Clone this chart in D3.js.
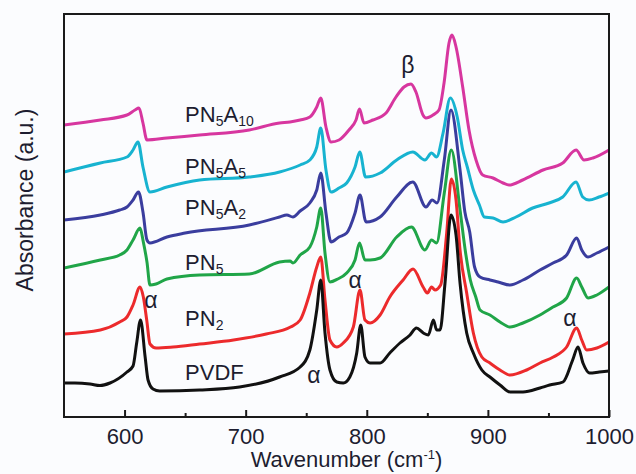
<!DOCTYPE html>
<html><head><meta charset="utf-8">
<script src="https://cdn.jsdelivr.net/npm/d3@7"></script>
<style>
html,body{margin:0;padding:0;background:#fbfcfe;}
svg{display:block;}
text{font-family:"Liberation Sans",Arial,Helvetica,sans-serif;fill:#1d1d30;}
</style></head><body>
<svg id="chart" width="636" height="474"></svg>
<script>
// ---- data (wavenumber cm^-1, absorbance a.u., spectra stacked with offsets) ----
const xTicks = [600, 700, 800, 900, 1000];
const xMinorTicks = [650, 750, 850, 950];
const seriesNames = ["PN5A10", "PN5A5", "PN5A2", "PN5", "PN2", "PVDF"];
const seriesColors = ["#d7369f", "#17b3d0", "#3a3d9e", "#20a548", "#ec2a2c", "#111111"];

const PN5A10 = [[550,2.92],[580,2.97],[602,3.02],[608.6,3.07],[611.9,3.09],[615.2,2.94],[618.5,2.77],[635,2.79],[662,2.82],[703,2.87],[728,2.94],[736.6,2.95],[745,2.97],[753,3.00],[758.7,3.10],[762,3.19],[766.3,2.90],[770.5,2.75],[777.1,2.77],[785.3,2.87],[791.1,2.97],[794,3.08],[797.7,2.94],[805.1,2.97],[815.9,3.04],[824.1,3.20],[830.7,3.30],[836.5,3.33],[840.6,3.25],[846.4,3.02],[848.9,2.99],[854.7,3.02],[859.6,3.07],[863.8,3.34],[867.9,3.74],[870.4,3.82],[873.7,3.70],[879.2,3.30],[884.4,2.87],[890.2,2.57],[895.7,2.42],[904.2,2.39],[912.5,2.34],[917.4,2.32],[928.7,2.37],[945.5,2.47],[961.8,2.54],[972.8,2.67],[979.4,2.57],[986.8,2.59],[1000,2.67]];
const PN5A5 = [[550,2.45],[580,2.54],[602,2.60],[607,2.67],[611.1,2.75],[615.2,2.50],[621,2.25],[635,2.30],[662,2.37],[703,2.40],[728,2.45],[745,2.52],[753,2.57],[758.7,2.70],[762,2.89],[766.3,2.47],[770.5,2.25],[777.1,2.29],[783.4,2.34],[790.3,2.50],[794.2,2.65],[799,2.40],[811,2.44],[824.7,2.57],[838,2.65],[848,2.57],[853.5,2.64],[857.6,2.60],[863,2.84],[869,3.19],[874.7,3.00],[879.2,2.67],[883,2.50],[888,2.27],[893,2.12],[897,2.00],[904.2,1.99],[912.5,1.95],[923.2,2.00],[937,2.09],[950.5,2.14],[961.8,2.20],[972.8,2.35],[978.3,2.20],[983.5,2.17],[991.7,2.20],[1000,2.24]];
const PN5A2 = [[550,1.97],[580,2.02],[596,2.07],[602,2.10],[607,2.17],[611.5,2.25],[615.2,2.05],[618.5,1.77],[621,1.74],[635,1.80],[650,1.84],[703,1.92],[728,2.00],[734,2.02],[739,2.00],[745,2.06],[753,2.14],[758.7,2.27],[762,2.44],[766.3,2.04],[770.5,1.75],[777,1.80],[783.4,1.84],[790.3,2.04],[794.4,2.22],[799.4,1.95],[811,2.00],[824.7,2.20],[838,2.35],[848.9,2.10],[854,2.17],[858,2.14],[864,2.57],[869.5,3.07],[877,2.47],[881,2.05],[885,1.85],[889,1.50],[893.5,1.40],[901.7,1.37],[908.4,1.35],[918.3,1.32],[929,1.37],[943,1.47],[953.8,1.54],[965,1.62],[973.3,1.79],[977.5,1.67],[982.7,1.60],[990,1.64],[1000,1.70]];
const PN5 = [[550,1.49],[580,1.57],[596,1.62],[602,1.67],[607,1.77],[612.8,1.89],[615.5,1.75],[618.5,1.55],[621,1.32],[626,1.33],[635,1.38],[662,1.42],[703,1.43],[728,1.55],[736.6,1.56],[739,1.54],[745,1.62],[753,1.70],[758.7,1.90],[762,2.09],[765.5,1.64],[769.6,1.35],[776,1.38],[783.4,1.44],[790.3,1.57],[794,1.74],[798.5,1.57],[802.7,1.57],[811,1.59],[824.7,1.80],[836.9,1.90],[848,1.67],[853.5,1.77],[857.6,1.74],[864,2.24],[869.8,2.67],[877,2.07],[881.5,1.65],[885.5,1.37],[890,1.20],[893.5,1.07],[901.7,1.02],[910,0.95],[918.3,0.90],[929,0.94],[943,1.02],[953.8,1.10],[965,1.19],[973.3,1.39],[977.5,1.30],[982.7,1.19],[990,1.22],[1000,1.30]];
const PN2 = [[550,0.83],[580,0.87],[596,0.95],[602,1.00],[607,1.12],[612.8,1.30],[615.5,1.20],[618.3,0.97],[621,0.73],[626,0.69],[640,0.70],[662,0.73],[690,0.77],[717,0.83],[737,0.90],[745,0.97],[753,1.24],[758.7,1.50],[762,1.60],[765.5,1.17],[769.6,0.77],[775.2,0.70],[780.6,0.74],[788.9,0.90],[794.4,1.27],[798.5,0.97],[802.7,0.94],[811,1.02],[819,1.20],[830,1.37],[838.2,1.48],[846.5,1.30],[850,1.24],[853.5,1.30],[856.3,1.27],[861,1.32],[866,1.84],[869.8,2.38],[873.7,2.17],[877,1.67],[882.5,1.24],[888,0.84],[895,0.60],[901.7,0.54],[910,0.47],[918.3,0.42],[932,0.47],[943,0.54],[954,0.60],[965,0.70],[973.3,0.89],[977.5,0.77],[981.6,0.67],[990,0.69],[1000,0.75]];
const PVDF = [[550,0.34],[559,0.34],[571.5,0.33],[579.7,0.315],[588,0.34],[602,0.45],[607,0.51],[610,0.74],[613.2,0.97],[617,0.60],[619.4,0.37],[623.5,0.28],[629,0.26],[662,0.27],[695,0.30],[728,0.40],[745,0.50],[753,0.67],[758.7,1.07],[762,1.37],[765.5,0.84],[769.6,0.47],[775.2,0.35],[780.6,0.34],[786,0.40],[791.7,0.64],[795,0.92],[798.5,0.60],[802.7,0.54],[811,0.54],[819,0.64],[827.4,0.74],[835.7,0.82],[841,0.89],[846.7,0.84],[850.8,0.82],[855,0.97],[857.7,0.87],[860.5,0.87],[864.6,1.34],[869.5,2.02],[873.7,1.82],[877,1.34],[882.5,0.84],[888,0.64],[895,0.47],[901.7,0.40],[910,0.32],[918.3,0.25],[929,0.25],[943,0.29],[951,0.32],[962,0.35],[970,0.57],[974.4,0.70],[978.5,0.54],[984,0.44],[992,0.45],[1000,0.46]];

const seriesData = [PN5A10, PN5A5, PN5A2, PN5, PN2, PVDF];

// series label text pieces: [text, isSubscript]
const seriesLabelParts = [
  [["PN",0],["5",1],["A",0],["10",1]],
  [["PN",0],["5",1],["A",0],["5",1]],
  [["PN",0],["5",1],["A",0],["2",1]],
  [["PN",0],["5",1]],
  [["PN",0],["2",1]],
  [["PVDF",0]]
];
// label anchor in data coordinates [wavenumber, absorbance]
const seriesLabelAnchor = [[650,2.95],[650,2.43],[650,2.02],[650,1.47],[650,0.91],[650,0.37]];

const bandLabels = ["α", "α", "α", "α", "β"];
const bandLabelAnchor = [[621.8,1.09],[756.4,0.34],[790.3,1.29],[967.8,0.91],[834,3.44]];

// ---- layout ----
const plot = {left: 64, right: 609, top: 14, bottom: 417};

const svg = d3.select("#chart");
const x = d3.scaleLinear().domain([550, 1000]).range([plot.left, plot.right]);
const y = d3.scaleLinear().domain([0, 4.03]).range([plot.bottom, plot.top]);

svg.append("defs").append("clipPath").attr("id", "clip")
  .append("rect").attr("x", plot.left).attr("y", plot.top)
  .attr("width", plot.right - plot.left).attr("height", plot.bottom - plot.top);

const line = d3.line().x(d => x(d[0])).y(d => y(d[1])).curve(d3.curveMonotoneX);

const gLines = svg.append("g").attr("clip-path", "url(#clip)");
seriesData.forEach((s, i) => {
  gLines.append("path").datum(s)
    .attr("d", line)
    .attr("fill", "none")
    .attr("stroke", seriesColors[i])
    .attr("stroke-width", 3)
    .attr("stroke-linejoin", "round")
    .attr("stroke-linecap", "round");
});

// frame
svg.append("rect")
  .attr("x", plot.left).attr("y", plot.top)
  .attr("width", plot.right - plot.left).attr("height", plot.bottom - plot.top)
  .attr("fill", "none").attr("stroke", "#1a1a1a").attr("stroke-width", 2);

// x axis (ticks inward)
const xAxis = svg.append("g").attr("transform", `translate(0,${plot.bottom})`)
  .call(d3.axisBottom(x).tickValues(xTicks).tickSizeInner(-7).tickSizeOuter(0).tickPadding(11).tickFormat(d3.format("d")));
xAxis.select(".domain").remove();
xAxis.selectAll(".tick line").attr("stroke", "#1a1a1a").attr("stroke-width", 2);
xAxis.selectAll(".tick text").attr("font-size", 22).attr("font-family", "Liberation Sans, Arial, sans-serif").attr("fill", "#1d1d30");

const xMinor = svg.append("g").attr("transform", `translate(0,${plot.bottom})`)
  .call(d3.axisBottom(x).tickValues(xMinorTicks).tickSizeInner(-4).tickSizeOuter(0).tickFormat(""));
xMinor.select(".domain").remove();
xMinor.selectAll(".tick line").attr("stroke", "#1a1a1a").attr("stroke-width", 2);

// axis titles
const xt = svg.append("text").attr("x", (plot.left + plot.right) / 2 + 10).attr("y", 467)
  .attr("text-anchor", "middle").attr("font-size", 22);
xt.append("tspan").text("Wavenumber (cm");
xt.append("tspan").attr("font-size", 13).attr("dy", -8).text("-1");
xt.append("tspan").attr("dy", 8).text(")");

svg.append("text").attr("transform", "translate(33,200) rotate(-90)")
  .attr("text-anchor", "middle").attr("font-size", 23).text("Absorbance (a.u.)");

// series labels
seriesLabelParts.forEach((parts, i) => {
  const t = svg.append("text")
    .attr("x", x(seriesLabelAnchor[i][0])).attr("y", y(seriesLabelAnchor[i][1]))
    .attr("font-size", 22);
  let sub = false;
  parts.forEach(([txt, isSub]) => {
    const ts = t.append("tspan").text(txt);
    if (isSub && !sub) { ts.attr("font-size", 14).attr("dy", 4); sub = true; }
    else if (!isSub && sub) { ts.attr("dy", -4); sub = false; }
    else if (isSub) ts.attr("font-size", 14);
  });
});

// band labels
bandLabels.forEach((txt, i) => {
  svg.append("text")
    .attr("x", x(bandLabelAnchor[i][0])).attr("y", y(bandLabelAnchor[i][1]))
    .attr("text-anchor", "middle").attr("font-size", 23).text(txt);
});
</script>
</body></html>
